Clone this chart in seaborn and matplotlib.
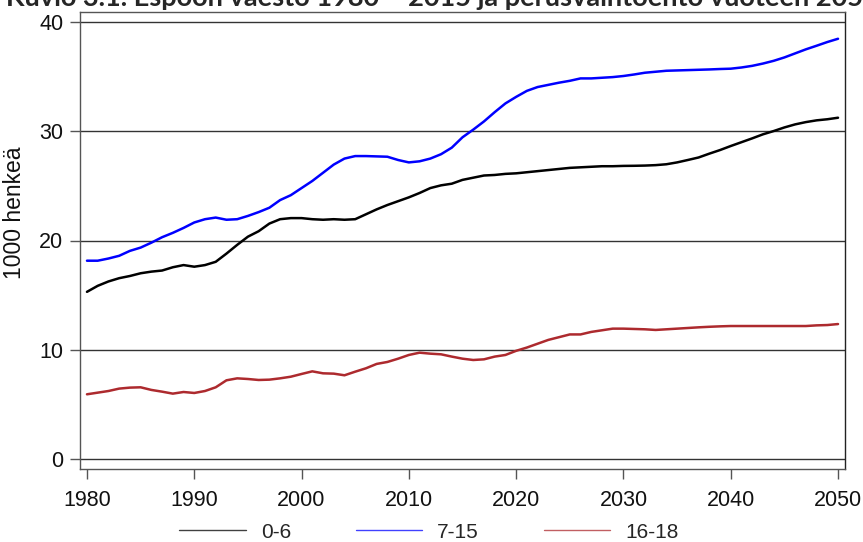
import numpy as np
import pandas as pd
import matplotlib
matplotlib.use("Agg")
import matplotlib.pyplot as plt
from matplotlib.lines import Line2D
import seaborn as sns

years = list(range(1980, 2051))

age_0_6 = [15.3, 15.85, 16.25, 16.55, 16.75, 17.0, 17.15, 17.25, 17.55, 17.75,
           17.6, 17.75, 18.05, 18.8, 19.6, 20.35, 20.85, 21.55, 21.95, 22.05,
           22.05, 21.95, 21.9, 21.95, 21.9, 21.95, 22.4, 22.85, 23.25, 23.6,
           23.95, 24.35, 24.8, 25.05, 25.2, 25.55, 25.75, 25.95, 26.0, 26.1,
           26.15, 26.25, 26.35, 26.45, 26.55, 26.65, 26.7, 26.75, 26.8, 26.8,
           26.83, 26.84, 26.86, 26.9, 26.98, 27.15, 27.37, 27.6, 27.95, 28.28,
           28.65, 29.0, 29.35, 29.72, 30.02, 30.35, 30.63, 30.84, 31.0, 31.1,
           31.24]

age_7_15 = [18.15, 18.15, 18.35, 18.6, 19.05, 19.35, 19.8, 20.3, 20.7, 21.15,
            21.65, 21.95, 22.1, 21.9, 21.95, 22.25, 22.6, 23.0, 23.7, 24.15,
            24.8, 25.45, 26.2, 26.95, 27.5, 27.73, 27.73, 27.7, 27.67, 27.37,
            27.15, 27.25, 27.5, 27.9, 28.5, 29.45, 30.15, 30.9, 31.75, 32.55,
            33.15, 33.7, 34.05, 34.25, 34.45, 34.62, 34.84, 34.84, 34.9, 34.96,
            35.06, 35.2, 35.36, 35.45, 35.54, 35.57, 35.6, 35.63, 35.66, 35.7,
            35.73, 35.84, 35.99, 36.2, 36.45, 36.76, 37.13, 37.5, 37.83, 38.17,
            38.47]

age_16_18 = [5.92, 6.07, 6.22, 6.44, 6.53, 6.56, 6.32, 6.16, 5.98, 6.13,
             6.04, 6.22, 6.56, 7.2, 7.38, 7.32, 7.23, 7.26, 7.38, 7.53,
             7.78, 8.02, 7.84, 7.81, 7.66, 7.99, 8.3, 8.7, 8.88, 9.18,
             9.52, 9.73, 9.64, 9.58, 9.37, 9.18, 9.06, 9.12, 9.37, 9.52,
             9.9, 10.2, 10.55, 10.9, 11.15, 11.4, 11.4, 11.63, 11.78, 11.93,
             11.93, 11.9, 11.87, 11.81, 11.87, 11.93, 11.99, 12.05, 12.1, 12.14,
             12.17, 12.17, 12.17, 12.17, 12.17, 12.17, 12.17, 12.17, 12.23, 12.26,
             12.35]

groups = ["0-6", "7-15", "16-18"]
colors = ["#000000", "#0000ff", "#ad2a2e"]

df = pd.concat([
    pd.DataFrame({"vuosi": years, "henkea": age_0_6, "ikä": "0-6"}),
    pd.DataFrame({"vuosi": years, "henkea": age_7_15, "ikä": "7-15"}),
    pd.DataFrame({"vuosi": years, "henkea": age_16_18, "ikä": "16-18"}),
])

sns.set_theme(style="white")
plt.rcParams["font.family"] = ["Liberation Sans", "DejaVu Sans"]

fig = plt.figure(figsize=(8.63, 5.42), dpi=100)
ax = fig.add_axes([80 / 863, 1 - 469 / 542, 765 / 863, 457 / 542])

# vaakaviivat
for yv in [0, 10, 20, 30, 40]:
    ax.axhline(yv, color="#333333", lw=1.0, zorder=1)

sns.lineplot(data=df, x="vuosi", y="henkea", hue="ikä", hue_order=groups,
             palette=colors, lw=1.8, ax=ax, legend=False, zorder=3)

ax.set_xlim(1979.35, 2050.65)
ax.set_ylim(-0.92, 40.92)
ax.set_xticks(range(1980, 2051, 10))
ax.set_yticks([0, 10, 20, 30, 40])
ax.tick_params(axis="both", labelsize=15.5, colors="#111111", length=7,
               width=1, direction="out", left=True, bottom=True)
ax.tick_params(axis="x", pad=8, color="#555555")
ax.tick_params(axis="y", pad=5, color="#555555")
for s in ax.spines.values():
    s.set_color("#555555")
    s.set_linewidth(1.0)
ax.spines["right"].set_color("#222222")

ax.set_xlabel("")
ax.set_ylabel("1000 henkeä", fontsize=16.5, color="#111111")
ax.yaxis.set_label_coords(-0.071, 0.56)

handles = [Line2D([0], [0], color=c, lw=1.0, alpha=0.75) for c in colors]
ax.legend(handles, groups, loc="center", bbox_to_anchor=(0.456, -0.138),
          ncol=3, frameon=False, fontsize=15, handlelength=3.2,
          handletextpad=0.72, columnspacing=3.1)

fig.text(0.512, 1 - 6 / 542,
         "Kuvio 3.1. Espoon väestö 1980 – 2015 ja perusvaihtoehto vuoteen 2050",
         ha="center", va="baseline", fontsize=19.5, fontweight="bold",
         family=["Lato", "DejaVu Sans"])

fig.savefig("out.png", dpi=100)
